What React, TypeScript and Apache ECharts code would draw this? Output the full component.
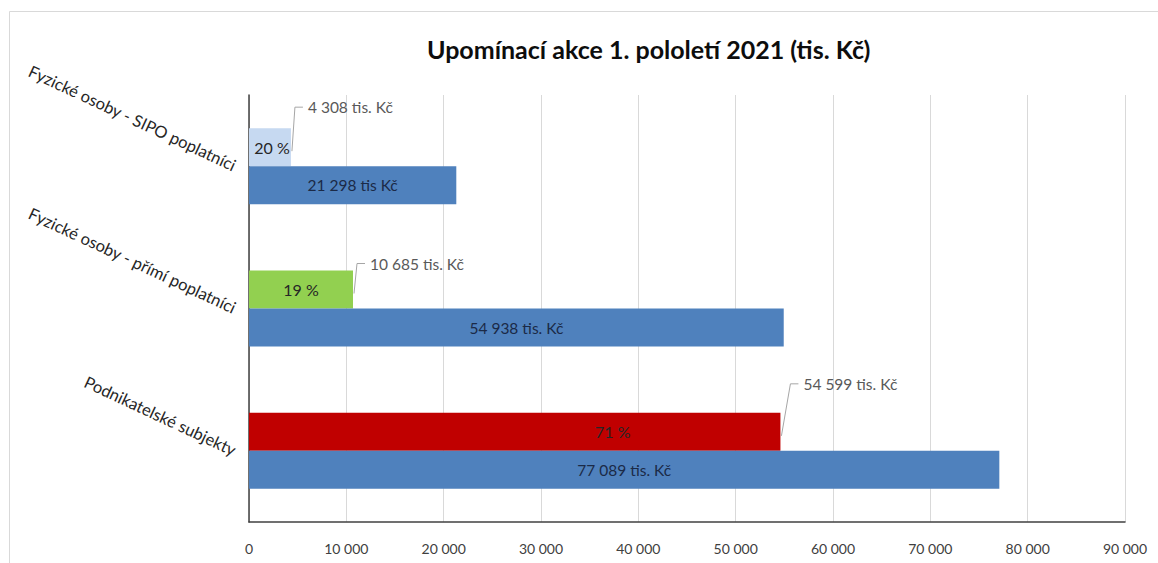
import React, { useEffect, useRef } from "react";
import * as echarts from "echarts";

const categories = [
  "Fyzické osoby - SIPO poplatníci",
  "Fyzické osoby - přímí poplatníci",
  "Podnikatelské subjekty",
];
const partValues = [4308, 10685, 54599];
const partPercents = [20, 19, 71];
const partLabels = ["4 308 tis. Kč", "10 685 tis. Kč", "54 599 tis. Kč"];
const totalValues = [21298, 54938, 77089];
const totalLabels = ["21 298 tis Kč", "54 938 tis. Kč", "77 089 tis. Kč"];
const partColors = ["#c6d9f1", "#92d050", "#c00000"];
const xTicks = [0, 10000, 20000, 30000, 40000, 50000, 60000, 70000, 80000, 90000];

// layout tweaks for callouts (pixel offsets, not data)
const calloutOffsets = [
  { dx: 4, dy: -59 },
  { dx: 4, dy: -45 },
  { dx: 10, dy: -67 },
];
const pctLabelOffsets = [[2, 0], [0, 0], [98, 0]];

const FONT = "Lato, 'Open Sans', sans-serif";

function fmt(v: number) {
  return String(v).replace(/\B(?=(\d{3})+(?!\d))/g, " ");
}

export default function App() {
  const ref = useRef<HTMLDivElement>(null);
  useEffect(() => {
    if (!ref.current) return;
    const chart = echarts.init(ref.current, undefined, { renderer: "svg" });
    const option: any = {
      animation: false,
      backgroundColor: "#ffffff",
      textStyle: { fontFamily: FONT },
      title: {
        text: "Upomínací akce 1. pololetí 2021 (tis. Kč)",
        left: 422,
        top: 31,
        textStyle: { fontFamily: FONT, fontSize: 25, fontWeight: "bold", color: "#0d0d0d" },
      },
      graphic: [
        {
          type: "rect",
          shape: { x: 9.5, y: 11.5, width: 1200, height: 600 },
          style: { fill: "none", stroke: "#d9d9d9", lineWidth: 1 },
          silent: true,
        },
      ],
      grid: { left: 249, right: 33, top: 95, bottom: 41, containLabel: false },
      xAxis: {
        type: "value",
        min: 0,
        max: 90000,
        interval: 10000,
        axisLine: { show: true, lineStyle: { color: "#404040", width: 1.5 } },
        axisTick: { show: false },
        splitLine: { show: true, lineStyle: { color: "#d9d9d9" } },
        axisLabel: {
          color: "#404040",
          fontSize: 14,
          margin: 19,
          fontFamily: FONT,
          formatter: (v: number) => (xTicks.includes(v) ? fmt(v) : ""),
        },
      },
      yAxis: {
        type: "category",
        inverse: true,
        data: categories,
        axisLine: { show: true, lineStyle: { color: "#404040", width: 1.5 } },
        axisTick: { show: false },
        axisLabel: {
          rotate: -25,
          margin: 14,
          color: "#262626",
          fontSize: 16.5,
          fontFamily: FONT,
        },
      },
      series: [
        {
          type: "bar",
          barWidth: 38,
          barGap: "0%",
          data: partValues.map((v, i) => ({
            value: v,
            itemStyle: { color: partColors[i] },
            label: { offset: pctLabelOffsets[i] },
          })),
          label: {
            show: true,
            position: "inside",
            color: "#262626",
            fontSize: 16,
            fontFamily: FONT,
            formatter: (p: any) => partPercents[p.dataIndex] + " %",
          },
        },
        {
          type: "bar",
          barWidth: 38,
          barGap: "0%",
          data: totalValues,
          itemStyle: { color: "#4f81bd" },
          label: {
            show: true,
            position: "inside",
            color: "#1b2a47",
            fontSize: 15.5,
            fontFamily: FONT,
            formatter: (p: any) => totalLabels[p.dataIndex],
          },
        },
        {
          type: "custom",
          silent: true,
          encode: { x: 0, y: 1 },
          data: partValues.map((v, i) => [v, categories[i]]),
          renderItem: (params: any, api: any) => {
            const p = api.coord([api.value(0), api.value(1)]);
            const o = calloutOffsets[params.dataIndex];
            const x0 = p[0] + 1;
            const y0 = p[1] - 15;
            const x1 = p[0] + o.dx;
            const y1 = p[1] + o.dy;
            return {
              type: "group",
              children: [
                {
                  type: "polyline",
                  shape: { points: [[x0, y0], [x1, y1], [x1 + 8, y1]] },
                  style: { stroke: "#a6a6a6", lineWidth: 1, fill: "none" },
                },
                {
                  type: "text",
                  x: x1 + 13,
                  y: y1,
                  style: {
                    text: partLabels[params.dataIndex],
                    fill: "#595959",
                    fontSize: 15.5,
                    fontFamily: FONT,
                    verticalAlign: "middle",
                    align: "left",
                  },
                },
              ],
            };
          },
        },
      ],
    };
    chart.setOption(option);
    return () => chart.dispose();
  }, []);
  return (
    <div
      ref={ref}
      style={{ position: "absolute", left: 0, top: 0, width: 1158, height: 563 }}
    />
  );
}
